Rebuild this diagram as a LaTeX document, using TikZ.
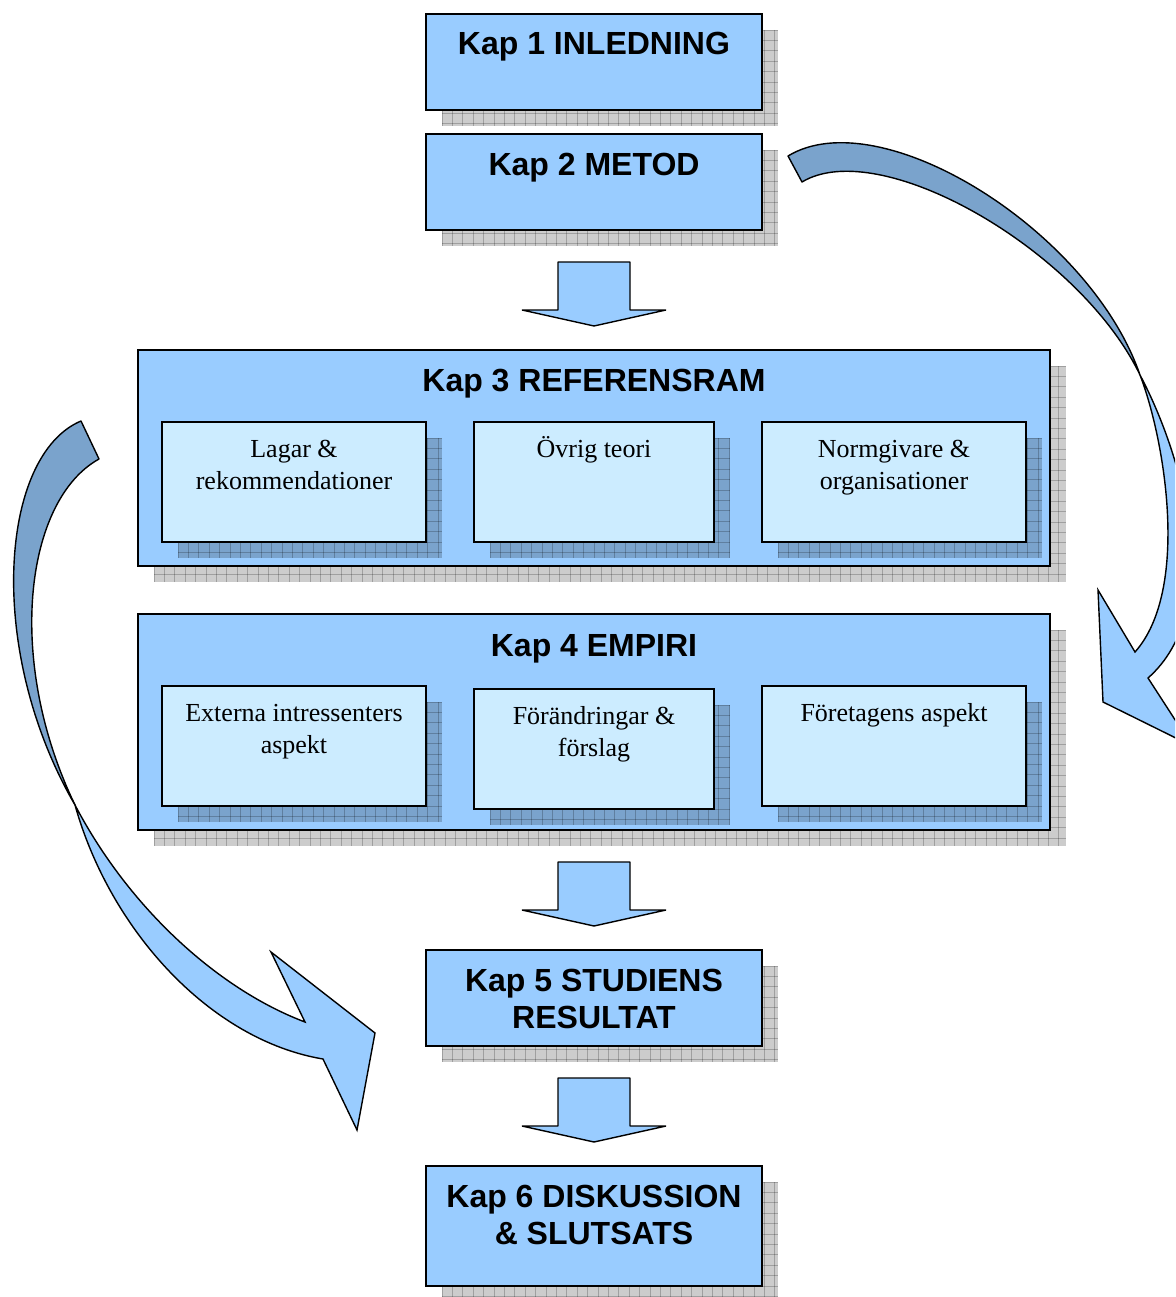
\documentclass[tikz,border=0pt]{standalone}
\usepackage{fontspec}
\setmainfont{Liberation Serif}
\newfontfamily\hdfont{Liberation Sans}
\usetikzlibrary{calc}
\definecolor{boxblue}{RGB}{153,204,255}
\definecolor{innerblue}{RGB}{204,236,255}
\definecolor{darkarrow}{RGB}{122,163,204}
\tikzset{
  chap/.style={draw=black, line width=1.6pt, fill=boxblue, inner sep=0pt},
  sub/.style={draw=black, line width=1.6pt, fill=innerblue, inner sep=0pt},
  title/.style={font=\hdfont\bfseries\fontsize{32}{37}\selectfont, align=center, anchor=base, inner sep=0pt},
  subtext/.style={font=\fontsize{26}{32}\selectfont, align=center, anchor=base, inner sep=0pt},
  shadowfill/.style={fill=black, fill opacity=.2},
  gridline/.style={draw=black, draw opacity=.22, line width=.8pt},
  blockarrow/.style={draw=black, line width=1.4pt, fill=boxblue, line join=bevel},
  ribbonlight/.style={draw=black, line width=1.4pt, fill=boxblue, line join=miter},
  ribbondark/.style={draw=black, line width=1.4pt, fill=darkarrow, line join=round},
}
% #1 name, #2 style, #3 x1, #4 y1, #5 x2, #6 y2
\newcommand\shadowedbox[6]{%
  \pgfmathsetmacro\shAx{#3+16}\pgfmathsetmacro\shAy{#4+16}%
  \pgfmathsetmacro\shBx{#5+16}\pgfmathsetmacro\shBy{#6+16}%
  \begin{scope}
    \clip (\shAx,\shAy) rectangle (\shBx,\shBy);
    \fill[shadowfill] (\shAx,\shAy) rectangle (\shBx,\shBy);
    \foreach \i in {0,...,90} {\draw[gridline] (\shAx+\i*10.4,\shAy) -- (\shAx+\i*10.4,\shBy);}
    \foreach \i in {0,...,22} {\draw[gridline] (\shAx,\shAy+\i*10.4) -- (\shBx,\shAy+\i*10.4);}
  \end{scope}
  \pgfmathsetmacro\shCx{(#3+#5)/2}\pgfmathsetmacro\shCy{(#4+#6)/2}%
  \pgfmathsetmacro\shW{#5-#3}\pgfmathsetmacro\shH{#6-#4}%
  \node[#2, minimum width=\shW pt, minimum height=\shH pt] (#1) at (\shCx,\shCy) {};
}
% block arrow between two boxes
\newcommand\blkarrow[3]{%
  \path ($(#1.south)!.5!(#2.north)$) coordinate (#3);
  \draw[blockarrow] ($(#3)+(-36,-28)$) -- ++(72,0) -- ++(0,48) -- ++(36,0)
     -- ++(-72,16) -- ++(-72,-16) -- ++(36,0) -- cycle;
}
\begin{document}
\begin{tikzpicture}[x=1pt,y=-1pt]
\useasboundingbox (0,0) rectangle (1175,1297);
\clip (0,0) rectangle (1175,1297);
\fill[white] (0,0) rectangle (1175,1297);

\shadowedbox{k1}{chap}{426}{14}{762}{110}
\shadowedbox{k2}{chap}{426}{134}{762}{230}
\shadowedbox{k3}{chap}{138}{350}{1050}{566}
\shadowedbox{k3a}{sub}{162}{422}{426}{542}
\shadowedbox{k3b}{sub}{474}{422}{714}{542}
\shadowedbox{k3c}{sub}{762}{422}{1026}{542}
\shadowedbox{k4}{chap}{138}{614}{1050}{830}
\shadowedbox{k4a}{sub}{162}{686}{426}{806}
\shadowedbox{k4b}{sub}{474}{689}{714}{809}
\shadowedbox{k4c}{sub}{762}{686}{1026}{806}
\shadowedbox{k5}{chap}{426}{950}{762}{1046}
\shadowedbox{k6}{chap}{426}{1166}{762}{1286}

% multi-line nodes: base anchor is the baseline of the last line
\node[title] (t1) at (594,55) {Kap 1 INLEDNING};
\node[title] (t2) at (594,176) {Kap 2 METOD};
\node[title] (t3) at (594,391) {Kap 3 REFERENSRAM};
\node[title] (t4) at (594,656) {Kap 4 EMPIRI};
\node[title] (t5) at (594,1028) {Kap 5 STUDIENS\\RESULTAT};
\node[title] (t6) at (594,1244) {Kap 6 DISKUSSION\\\& SLUTSATS};

\node[subtext] (s1) at (294,489) {Lagar \&\\rekommendationer};
\node[subtext] (s2) at (594,457) {Övrig teori};
\node[subtext] (s3) at (894,489) {Normgivare \&\\organisationer};
\node[subtext] (s4) at (294,753) {Externa intressenters\\aspekt};
\node[subtext] (s5) at (594,756) {Förändringar \&\\förslag};
\node[subtext] (s6) at (894,721) {Företagens aspekt};

\blkarrow{k2}{k3}{m1}
\blkarrow{k4}{k5}{m2}
\blkarrow{k5}{k6}{m3}

% right curved arrow (Kap 2 -> Kap 4)
\draw[ribbondark] (788,156) .. controls (880,100) and (1090,230) .. (1140,375)
   .. controls (1080,250) and (880,135) .. (802,182) -- cycle;
\draw[ribbonlight] (1140,375) .. controls (1165,440) and (1190,590) .. (1135,652)
   -- (1098,590) -- (1103,702) -- (1192,746) -- (1148,678)
   .. controls (1225,610) and (1185,460) .. (1140,375) -- cycle;

% left curved arrow (Kap 3 -> Kap 5)
\draw[ribbondark] (81,421) .. controls (0,455) and (-15,650) .. (75,805)
   .. controls (5,660) and (25,500) .. (99,459) -- cycle;
\draw[ribbonlight] (75,805) .. controls (130,910) and (220,990) .. (305,1022)
   -- (271,952) -- (375,1033) -- (357,1130) -- (323,1059)
   .. controls (210,1040) and (110,930) .. (75,805) -- cycle;
\end{tikzpicture}
\end{document}
